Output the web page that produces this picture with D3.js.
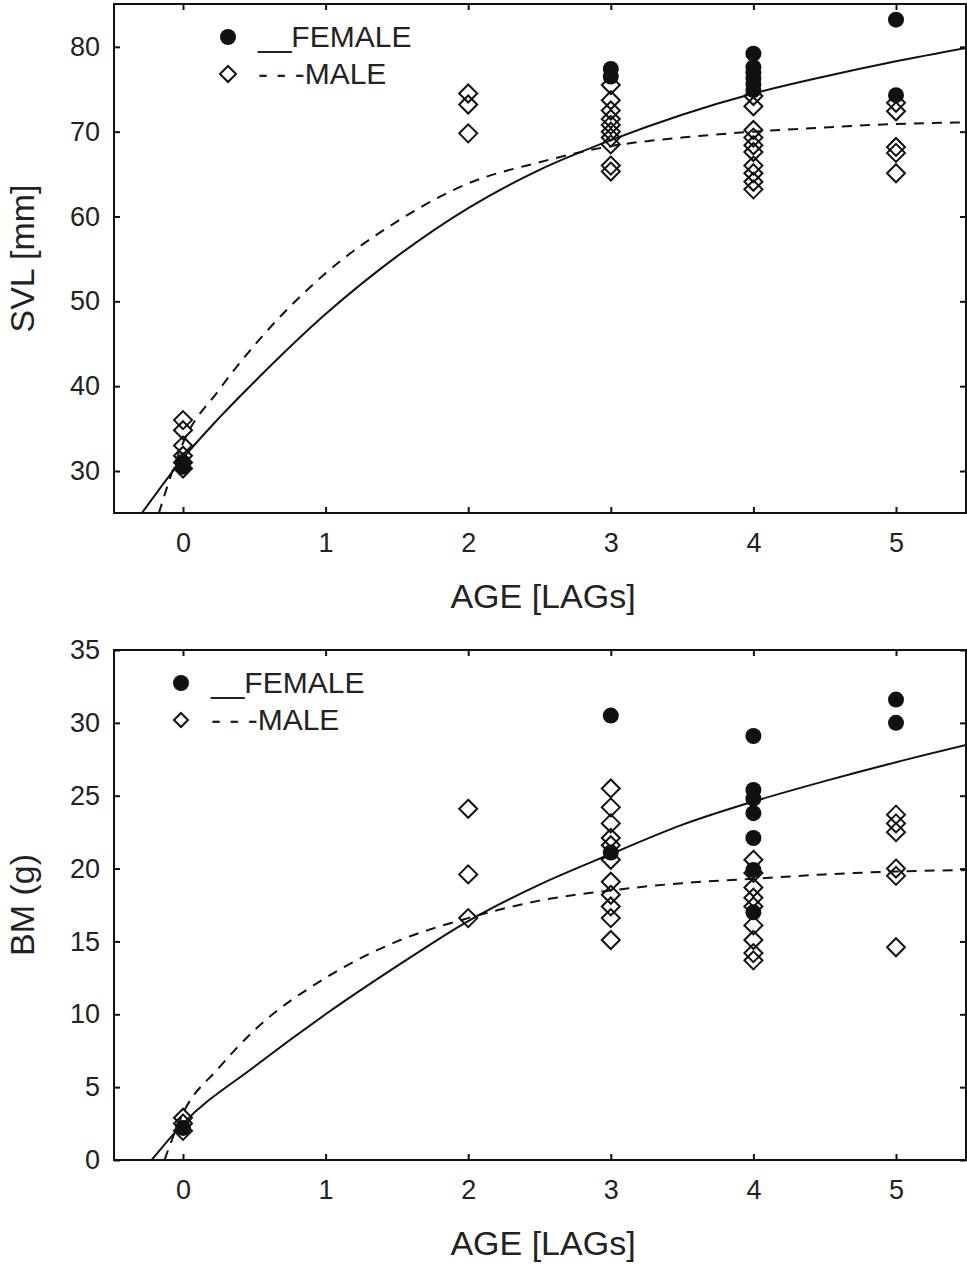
<!DOCTYPE html>
<html>
<head>
<meta charset="utf-8">
<script src="https://cdn.jsdelivr.net/npm/d3@7"></script>
<style>
  body { margin: 0; background: #fff; }
  text { font-family: 'Liberation Sans', Arial, sans-serif; fill: #222; }
</style>
</head>
<body>
<script>
// ages on the x axis
const ageTicks = [0, 1, 2, 3, 4, 5];
const svlTicks = [30, 40, 50, 60, 70, 80];
const bmTicks = [0, 5, 10, 15, 20, 25, 30, 35];

// SVL [mm] observations: [age, value]
const svlFemale = [
    [0, 31.0], [0, 30.5],
    [3, 77.4], [3, 76.5],
    [4, 79.2], [4, 77.6], [4, 77.0], [4, 76.3], [4, 75.6], [4, 74.9],
    [5, 83.2], [5, 74.3]
];
const svlMale = [
    [0, 36.0], [0, 34.8], [0, 33.0], [0, 31.8], [0, 31.0], [0, 30.3],
    [2, 74.5], [2, 73.2], [2, 69.8],
    [3, 75.5], [3, 73.7], [3, 72.5], [3, 71.5], [3, 70.8], [3, 70.0], [3, 69.3], [3, 68.5], [3, 66.0], [3, 65.3],
    [4, 74.2], [4, 73.0], [4, 70.2], [4, 69.3], [4, 68.4], [4, 67.6], [4, 66.0], [4, 65.1], [4, 64.1], [4, 63.2],
    [5, 73.4], [5, 72.4], [5, 68.2], [5, 67.5], [5, 65.1]
];
// fitted growth curves
const svlFemaleCurve = [
    [-0.29, 25], [0, 31.5], [0.25, 36.2], [0.5, 40.5], [1, 48.5], [1.5, 55.3], [2, 61], [2.5, 65.5],
    [3, 69], [3.5, 72], [4, 74.5], [4.5, 76.5], [5, 78.3], [5.5, 79.9]
];
const svlMaleCurve = [
    [-0.17, 25], [0, 33.3], [0.25, 39.5], [0.5, 44.8], [1, 53.3], [1.5, 59.4], [2, 63.9], [2.5, 66.4],
    [3, 68.3], [3.5, 69.3], [4, 70], [4.5, 70.5], [5, 70.9], [5.5, 71.1]
];

// BM (g) observations
const bmFemale = [
    [0, 2.2],
    [3, 30.5], [3, 21.1],
    [4, 29.1], [4, 25.4], [4, 24.8], [4, 23.8], [4, 22.1], [4, 19.9], [4, 17.0],
    [5, 31.6], [5, 30.0]
];
const bmMale = [
    [0, 2.9], [0, 2.5], [0, 2.0],
    [2, 24.1], [2, 19.6], [2, 16.6],
    [3, 25.5], [3, 24.2], [3, 23.1], [3, 22.1], [3, 21.6], [3, 20.6], [3, 19.1], [3, 18.2], [3, 17.4], [3, 16.6], [3, 15.1],
    [4, 20.6], [4, 19.7], [4, 18.7], [4, 18.0], [4, 17.4], [4, 16.1], [4, 15.1], [4, 14.2], [4, 13.7],
    [5, 23.7], [5, 23.1], [5, 22.5], [5, 20.0], [5, 19.5], [5, 14.6]
];
const bmFemaleCurve = [
    [-0.22, 0], [0, 2.5], [0.5, 6.4], [1, 10], [1.5, 13.3], [2, 16.4], [2.5, 18.9],
    [3, 21], [3.5, 23], [4, 24.6], [4.5, 26], [5, 27.3], [5.5, 28.5]
];
const bmMaleCurve = [
    [-0.13, 0], [0, 3.2], [0.25, 6.3], [0.5, 8.9], [1, 12.5], [1.5, 15], [2, 16.6], [2.5, 17.8],
    [3, 18.5], [3.5, 19], [4, 19.3], [4.5, 19.6], [5, 19.8], [5.5, 19.9]
];

const svg = d3.select('body')
    .append('svg')
    .attr('width', 967)
    .attr('height', 1267);

const diamond = r => `M0,${-r}L${r},0L0,${r}L${-r},0Z`;

function drawPanel(cfg) {
    const left = 114, right = 966;
    const x = d3.scaleLinear().domain([-0.5, 5.5]).range([111.7, 967.3]);
    const y = d3.scaleLinear().domain(cfg.yDomain).range([cfg.bottom, cfg.top]);
    const g = svg.append('g');

    g.append('clipPath').attr('id', cfg.id)
        .append('rect')
        .attr('x', left).attr('y', cfg.top)
        .attr('width', right - left).attr('height', cfg.bottom - cfg.top);

    // ticks on all four sides, pointing inward
    const tick = 6;
    g.append('g').attr('transform', `translate(0,${cfg.bottom})`)
        .call(d3.axisBottom(x).tickValues(ageTicks).tickSize(-tick).tickPadding(20).tickFormat(d3.format('d')))
        .call(a => a.select('.domain').remove())
        .call(a => a.selectAll('text').style('font-size', '27px').attr('fill', '#222'));
    g.append('g').attr('transform', `translate(0,${cfg.top})`)
        .call(d3.axisTop(x).tickValues(ageTicks).tickSize(-tick).tickFormat(''))
        .call(a => a.select('.domain').remove());
    g.append('g').attr('transform', `translate(${left},0)`)
        .call(d3.axisLeft(y).tickValues(cfg.yTicks).tickSize(-tick).tickPadding(14))
        .call(a => a.select('.domain').remove())
        .call(a => a.selectAll('text').style('font-size', '27px').attr('fill', '#222'));
    g.append('g').attr('transform', `translate(${right},0)`)
        .call(d3.axisRight(y).tickValues(cfg.yTicks).tickSize(-tick).tickFormat(''))
        .call(a => a.select('.domain').remove());
    g.selectAll('.tick line').attr('stroke', '#111').attr('stroke-width', 2);

    g.append('rect')
        .attr('x', left).attr('y', cfg.top)
        .attr('width', right - left).attr('height', cfg.bottom - cfg.top)
        .attr('fill', 'none').attr('stroke', '#111').attr('stroke-width', 2);

    const line = d3.line().x(d => x(d[0])).y(d => y(d[1])).curve(d3.curveMonotoneX);
    const plot = g.append('g').attr('clip-path', `url(#${cfg.id})`);
    plot.append('path').datum(cfg.femaleCurve).attr('d', line)
        .attr('fill', 'none').attr('stroke', '#111').attr('stroke-width', 2);
    plot.append('path').datum(cfg.maleCurve).attr('d', line)
        .attr('fill', 'none').attr('stroke', '#111').attr('stroke-width', 2)
        .attr('stroke-dasharray', '10,8');

    plot.selectAll('.fem').data(cfg.female).enter()
        .append('circle')
        .attr('cx', d => x(d[0])).attr('cy', d => y(d[1]))
        .attr('r', 8).attr('fill', '#111');
    plot.selectAll('.mal').data(cfg.male).enter()
        .append('path')
        .attr('d', diamond(9))
        .attr('transform', d => `translate(${x(d[0])},${y(d[1])})`)
        .attr('fill', 'none').attr('stroke', '#111').attr('stroke-width', 2);

    // axis titles
    g.append('text')
        .attr('x', (left + right) / 2 + 3).attr('y', cfg.bottom + 95)
        .attr('text-anchor', 'middle')
        .style('font-size', '34px')
        .text('AGE [LAGs]');
    g.append('text')
        .attr('transform', `translate(34,${(cfg.top + cfg.bottom) / 2}) rotate(-90)`)
        .attr('text-anchor', 'middle')
        .style('font-size', '34px')
        .text(cfg.yLabel);

    // legend
    const lg = g.append('g').attr('transform', `translate(${cfg.legendX},${cfg.top + 33})`);
    lg.append('circle').attr('cx', 0).attr('cy', 0).attr('r', 8).attr('fill', '#111');
    lg.append('text').attr('x', 30).attr('y', 10).style('font-size', '30px').text('__FEMALE');
    lg.append('path').attr('d', diamond(cfg.legendDiamond))
        .attr('transform', 'translate(0,37)')
        .attr('fill', 'none').attr('stroke', '#111').attr('stroke-width', 2);
    lg.append('text').attr('x', 30).attr('y', 47).style('font-size', '30px').text('- - -MALE');
}

drawPanel({
    id: 'clipTop', top: 4, bottom: 513, yDomain: [25.05, 85.05], yTicks: svlTicks,
    yLabel: 'SVL [mm]', female: svlFemale, male: svlMale,
    femaleCurve: svlFemaleCurve, maleCurve: svlMaleCurve,
    legendX: 228, legendDiamond: 8
});
drawPanel({
    id: 'clipBottom', top: 650, bottom: 1160, yDomain: [0, 35], yTicks: bmTicks,
    yLabel: 'BM (g)', female: bmFemale, male: bmMale,
    femaleCurve: bmFemaleCurve, maleCurve: bmMaleCurve,
    legendX: 181, legendDiamond: 7
});
</script>
</body>
</html>
